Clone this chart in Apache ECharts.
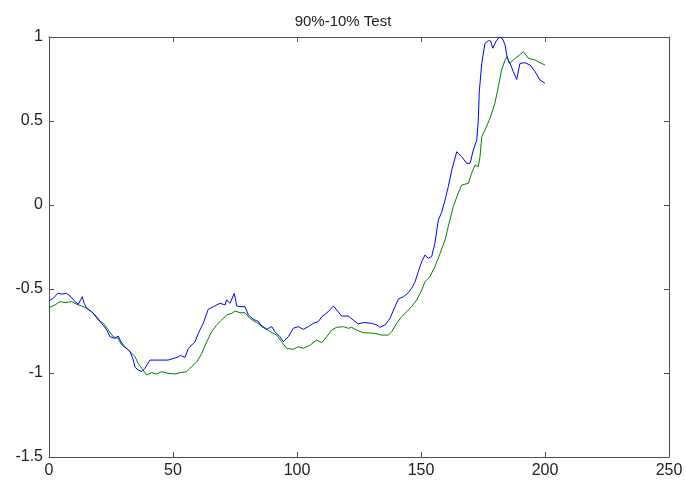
<!DOCTYPE html>
<html>
<head>
<meta charset="utf-8">
<script src="https://cdn.jsdelivr.net/npm/echarts@6/dist/echarts.min.js"></script>
<style>html,body{margin:0;padding:0;background:#fff;}#c{width:686px;height:482px;}</style>
</head>
<body>
<div id="c"></div>
<script>
const titleText = "90%-10% Test";
const xTicks = [0, 50, 100, 150, 200, 250];
const yTicks = [-1.5, -1, -0.5, 0, 0.5, 1];

const blueX = [0,1.7,3.5,5.1,7.1,8.5,10.5,11.8,13.4,14.2,15.2,17.2,19.2,21.2,23.3,24.6,26.6,27.9,29,30.6,32.7,34,34.7,36,37.4,38.7,40.7,44,48,52,53,54.8,56.2,58.9,60.2,62.2,64.2,66.3,69,71,71.6,73,74.7,75.7,77,79,80.4,82.4,84.4,85.8,87.8,89.8,91.1,93.1,94.5,96.5,98.5,100.5,102.5,104.6,106.6,108.6,110,112.6,114.7,116,118,120.7,122.7,124.7,126.7,130.1,132.1,133.5,135.5,137.5,139.5,140.9,142.9,144.9,146.2,147.6,148.9,150.3,151.6,152.9,154.3,155.6,157,158.3,159.7,161,162.4,164.4,166.4,168.4,169.8,171.1,172.5,173.1,173.5,174.5,175.8,177.1,178.1,178.9,180.2,181.6,182.9,183.9,184.8,185.9,187.2,188.6,189.9,191.9,194,196,198,200];
const blueY = [-0.570,-0.556,-0.526,-0.530,-0.526,-0.542,-0.575,-0.591,-0.546,-0.585,-0.615,-0.635,-0.665,-0.704,-0.744,-0.784,-0.794,-0.780,-0.814,-0.844,-0.873,-0.923,-0.966,-0.982,-0.992,-0.972,-0.923,-0.923,-0.923,-0.905,-0.895,-0.907,-0.853,-0.814,-0.764,-0.704,-0.621,-0.605,-0.585,-0.595,-0.565,-0.585,-0.526,-0.601,-0.605,-0.605,-0.655,-0.680,-0.694,-0.724,-0.740,-0.724,-0.754,-0.784,-0.814,-0.784,-0.734,-0.724,-0.740,-0.724,-0.704,-0.694,-0.665,-0.635,-0.601,-0.625,-0.661,-0.661,-0.685,-0.708,-0.700,-0.704,-0.714,-0.728,-0.714,-0.675,-0.605,-0.560,-0.546,-0.522,-0.496,-0.457,-0.397,-0.337,-0.298,-0.317,-0.307,-0.228,-0.089,-0.045,0.030,0.109,0.208,0.317,0.288,0.248,0.248,0.327,0.387,0.506,0.674,0.843,0.962,0.978,0.976,0.933,0.972,1.0,0.99,0.952,0.873,0.843,0.794,0.748,0.843,0.847,0.833,0.794,0.744,0.724];

const greenX = [0,2.4,4.4,6.5,9.1,11.2,13.2,15.2,17.2,19.9,21.9,23.9,25.9,27.9,29.3,32,34.7,36,37.4,39.4,41.4,43.4,45.4,48,50.8,53,55.5,57.5,59.6,61.6,63.6,65.6,67.6,69.6,71.6,73.7,75,77,79,81,83.7,86.4,89.1,91.8,93.8,95.8,98.5,100.5,102.5,105.2,107.9,110,112,114,116,118.7,120.7,122,124,126.7,131.5,134.1,136.8,138.2,140.2,142.2,144.2,146.2,148.3,150.3,151.6,153.6,155.6,157.7,159.7,161,163,165,166.4,169.1,170.4,171.8,173.1,173.8,174.5,175.8,177.8,179.8,181.2,182.5,183.9,184.8,185.6,187.2,189.2,191.3,193.3,196,198,200];
const greenY = [-0.611,-0.595,-0.575,-0.581,-0.575,-0.591,-0.601,-0.615,-0.635,-0.685,-0.704,-0.744,-0.784,-0.794,-0.833,-0.863,-0.903,-0.943,-0.972,-1.012,-0.998,-1.006,-0.992,-1.002,-1.006,-0.998,-0.992,-0.962,-0.933,-0.883,-0.814,-0.754,-0.714,-0.685,-0.655,-0.645,-0.631,-0.641,-0.641,-0.675,-0.700,-0.724,-0.754,-0.774,-0.814,-0.853,-0.859,-0.844,-0.853,-0.835,-0.804,-0.819,-0.784,-0.744,-0.728,-0.724,-0.734,-0.728,-0.744,-0.760,-0.764,-0.774,-0.774,-0.754,-0.704,-0.665,-0.635,-0.605,-0.565,-0.506,-0.457,-0.427,-0.367,-0.288,-0.208,-0.129,-0.010,0.070,0.119,0.129,0.189,0.238,0.228,0.288,0.407,0.446,0.516,0.605,0.704,0.804,0.863,0.883,0.843,0.863,0.887,0.913,0.873,0.863,0.847,0.833];

const pairs = (xs, ys) => xs.map((x, i) => [x, ys[i]]);
const axisColor = '#4d4d4d';
const font = 'Liberation Sans, Arial, sans-serif';

const xMin = xTicks[0], xMax = xTicks[xTicks.length - 1], xStep = xTicks[1] - xTicks[0];
const yMin = yTicks[0], yMax = yTicks[yTicks.length - 1], yStep = yTicks[1] - yTicks[0];

function xAx(pos, showLabel) {
  return {
    type: 'value', position: pos, min: xMin, max: xMax, interval: xStep,
    axisLine: { show: true, onZero: false, lineStyle: { color: axisColor, width: 1 } },
    axisTick: { show: true, inside: true, length: 5, lineStyle: { color: axisColor } },
    axisLabel: { show: showLabel, color: '#222', fontSize: 16, fontFamily: font, margin: 6 },
    splitLine: { show: false }
  };
}
function yAx(pos, showLabel) {
  return {
    type: 'value', position: pos, min: yMin, max: yMax, interval: yStep,
    axisLine: { show: true, onZero: false, lineStyle: { color: axisColor, width: 1 } },
    axisTick: { show: true, inside: true, length: 5, lineStyle: { color: axisColor } },
    axisLabel: { show: showLabel, color: '#222', fontSize: 16, fontFamily: font, margin: 6 },
    splitLine: { show: false }
  };
}

const chart = echarts.init(document.getElementById('c'), null, { renderer: 'canvas' });
chart.setOption({
  animation: false,
  backgroundColor: '#fff',
  title: {
    text: titleText, left: 'center', top: 9,
    textStyle: { fontSize: 15, fontWeight: 'normal', color: '#222', fontFamily: font }
  },
  grid: { left: 49, right: 17, top: 37, bottom: 25, containLabel: false },
  xAxis: [xAx('bottom', true), xAx('top', false)],
  yAxis: [yAx('left', true), yAx('right', false)],
  series: [
    { type: 'line', name: 'green', data: pairs(greenX, greenY), showSymbol: false, symbol: 'none',
      lineStyle: { color: '#008000', width: 1 }, xAxisIndex: 0, yAxisIndex: 0 },
    { type: 'line', name: 'blue', data: pairs(blueX, blueY), showSymbol: false, symbol: 'none',
      lineStyle: { color: '#0000ff', width: 1 }, xAxisIndex: 0, yAxisIndex: 0 }
  ]
});
</script>
</body>
</html>
